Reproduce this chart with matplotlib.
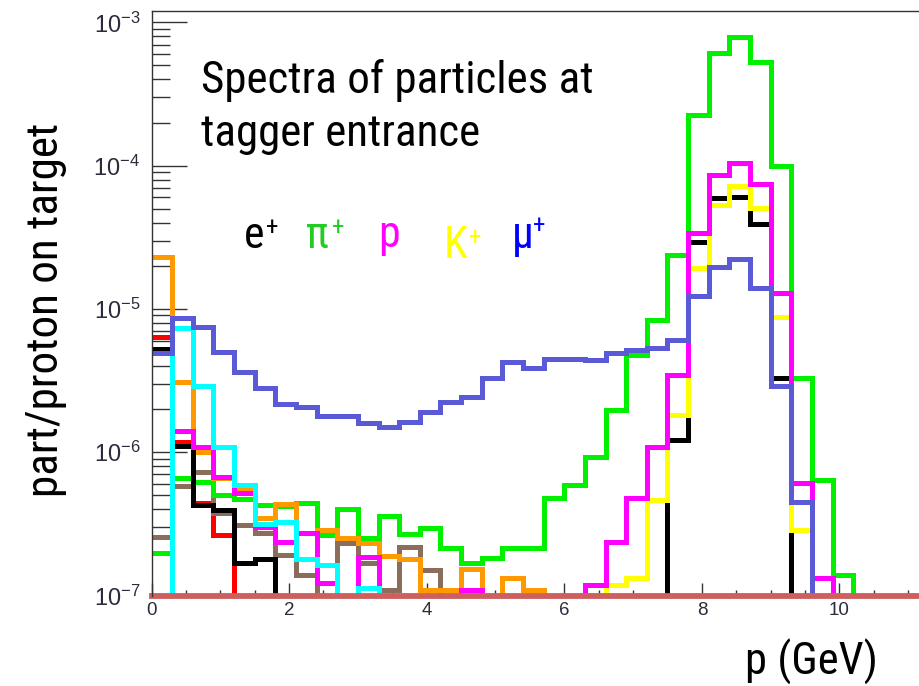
import os
import numpy as np
import matplotlib
matplotlib.use("Agg")
import matplotlib.pyplot as plt
from matplotlib import font_manager as fm
from matplotlib.font_manager import FontProperties
from matplotlib.textpath import TextPath
from matplotlib.ticker import FixedLocator, MultipleLocator, LogLocator, NullFormatter, FuncFormatter

plt.rcParams["mathtext.fontset"] = "custom"
plt.rcParams["mathtext.rm"] = "Liberation Sans"
plt.rcParams["font.family"] = ["Liberation Sans", "DejaVu Sans"]

# momentum binning: 0.3 GeV bins from 0 to 12 GeV
bin_edges = np.round(np.arange(0.0, 12.0 + 1e-9, 0.3), 6)
N_BINS = len(bin_edges) - 1


def full(values):
    """Pad a spectrum with empty bins up to the full range."""
    return np.array(values + [0.0] * (N_BINS - len(values)))


# particles per proton on target, per bin
e_plus = full([5.25e-6, 1.1e-6, 4.3e-7, 3.95e-7, 1.68e-7, 1.79e-7, 0, 0, 0, 0,
               0, 0, 0, 0, 0, 0, 0, 0, 0, 0,
               0, 0, 0, 0, 0, 1.22e-6, 2.94e-5, 5.91e-5, 6.0e-5, 3.9e-5,
               3.28e-6])
pi_plus = full([1.97e-7, 6.6e-7, 6.2e-7, 5.0e-7, 4.7e-7, 4.3e-7, 4.2e-7, 4.4e-7, 2.64e-7, 4.0e-7,
                2.5e-7, 3.59e-7, 2.67e-7, 2.97e-7, 2.16e-7, 1.68e-7, 1.84e-7, 2.13e-7, 2.13e-7, 4.76e-7,
                5.9e-7, 9.3e-7, 1.97e-6, 4.77e-6, 8.4e-6, 2.38e-5, 2.26e-4, 6.08e-4, 7.94e-4, 5.3e-4,
                1.0e-4, 3.28e-6, 6.4e-7, 1.4e-7])
protons = full([0, 1.41e-6, 1.09e-6, 6.75e-7, 5.2e-7, 3.0e-7, 2.37e-7, 2.74e-7, 1.22e-7, 0,
                1.87e-7, 0, 0, 0, 0, 1.1e-7, 0, 0, 0, 0,
                0, 1.18e-7, 2.37e-7, 4.77e-7, 1.09e-6, 3.46e-6, 3.37e-5, 8.6e-5, 1.05e-4, 7.45e-5,
                1.29e-5, 6.1e-7, 1.32e-7])
k_plus = full([0, 0, 0, 0, 0, 0, 0, 0, 0, 0,
               0, 0, 0, 0, 0, 0, 0, 0, 0, 0,
               0, 0, 1.18e-7, 1.32e-7, 4.65e-7, 1.82e-6, 1.92e-5, 5.3e-5, 7.2e-5, 5.03e-5,
               8.8e-6, 2.86e-7])
mu_plus = full([4.9e-6, 8.6e-6, 7.5e-6, 5.0e-6, 3.65e-6, 2.8e-6, 2.16e-6, 2.06e-6, 1.8e-6, 1.78e-6,
                1.59e-6, 1.49e-6, 1.63e-6, 1.92e-6, 2.25e-6, 2.44e-6, 3.31e-6, 4.24e-6, 3.89e-6, 4.46e-6,
                4.45e-6, 4.4e-6, 4.94e-6, 5.16e-6, 5.36e-6, 6.07e-6, 1.23e-5, 1.97e-5, 2.22e-5, 1.39e-5,
                2.9e-6, 4.5e-7])
red_spec = full([6.33e-6, 1.17e-6, 4.4e-7, 2.64e-7])
cyan_spec = full([0, 7.33e-6, 2.9e-6, 1.09e-6, 5.9e-7, 3.15e-7, 3.27e-7, 1.81e-7, 1.63e-7, 0,
                  1.12e-7])
orange_spec = full([2.31e-5, 3.1e-6, 1.0e-6, 6.58e-7, 5.6e-7, 3.46e-7, 4.35e-7, 2.74e-7, 2.86e-7, 2.5e-7,
                    2.31e-7, 1.89e-7, 1.79e-7, 1.09e-7, 1.1e-7, 1.52e-7, 0, 1.32e-7, 1.1e-7])
brown_spec = full([2.58e-7, 5.8e-7, 7.3e-7, 3.75e-7, 3.1e-7, 2.72e-7, 1.92e-7, 1.39e-7, 0, 2.31e-7,
                   1.68e-7, 1.09e-7, 2.19e-7, 1.51e-7])

Y_MIN, Y_MAX = 1e-7, 1.2e-3

# drawing order, bottom to top
spectra = [
    (red_spec, "#ff0000"),
    (brown_spec, "#8b6d5c"),
    (pi_plus, "#00f000"),
    (orange_spec, "#ff9900"),
    (e_plus, "#000000"),
    (k_plus, "#ffff00"),
    (protons, "#ff00ff"),
    (cyan_spec, "#00ffff"),
    (mu_plus, "#5a5ad7"),
]


# ---------- label font: a condensed sans face if one is installed ----------
def condensed_sans():
    prefs = ["ubuntu", "roboto", "noto sans", "open sans", "liberation sans", "dejavu sans"]
    best, best_rank = None, None
    for f in fm.fontManager.ttflist:
        tag = (f.name + " " + os.path.basename(f.fname)).lower()
        if not ("condensed" in tag or "narrow" in tag or f.stretch in ("condensed", "semi-condensed")):
            continue
        if f.style != "normal" or "mono" in tag or "italic" in tag or "oblique" in tag:
            continue
        if "serif" in tag and "sans" not in tag:
            continue
        if f.weight not in (400, "normal", "regular", "book"):
            continue
        if any(w in tag for w in ("extra", "ultra", "light", "thin", "medium", "bold", "black")):
            continue
        fam = next((i for i, p in enumerate(prefs) if p in tag), len(prefs))
        rank = (fam, "semi" in tag)
        if best_rank is None or rank < best_rank:
            best, best_rank = f.fname, rank
    if best is not None:
        return FontProperties(fname=best)
    return FontProperties(family=["Roboto", "DejaVu Sans"])


LABEL_FP = condensed_sans()


def font(size, weight="normal"):
    fp = LABEL_FP.copy()
    fp.set_size(size)
    fp.set_weight(weight)
    return fp


def ink(s, size):
    ext = TextPath((0, 0), s, prop=font(size)).get_extents()
    return ext.width * 100 / 72, ext.height * 100 / 72


def fit_size(s, width_px, probe=None, probe_height_px=None, slack=1.05):
    """Font size whose ink width matches, without outgrowing the glyph height."""
    ref = 20.0
    size = ref * width_px / ink(s, ref)[0] * slack
    if probe is not None:
        size = min(size, ref * probe_height_px / ink(probe, ref)[1])
    return size


W, H = 919, 686
fig = plt.figure(figsize=(W / 100, H / 100), dpi=100)
ax_left, ax_bottom, ax_top = 151.5, 595.5, 11.0
ax = fig.add_axes([ax_left / W, (H - ax_bottom) / H, 12 * 68.8 / W, (ax_bottom - ax_top) / H])
ax.set_yscale("log")
ax.set_xlim(0, 12)
ax.set_ylim(Y_MIN, Y_MAX)

for z, (vals, col) in enumerate(spectra):
    # empty bins sit below the axis floor, as in a log-scale histogram
    shown = np.where(vals > 0, vals, 1e-9)
    ax.stairs(shown, bin_edges, baseline=None, color=col, linewidth=3.6,
              joinstyle="miter", capstyle="butt", zorder=2 + z * 0.1)

# floor of the log axis
ax.axhline(Y_MIN, color="#cd5f5f", linewidth=4.2, zorder=5, clip_on=False)

for side in ("right", "bottom"):
    ax.spines[side].set_visible(False)
for side in ("left", "top"):
    ax.spines[side].set_color("#333333")
    ax.spines[side].set_linewidth(1.0)
    ax.spines[side].set_zorder(6)

ax.xaxis.set_major_locator(FixedLocator([0, 2, 4, 6, 8, 10]))
ax.xaxis.set_minor_locator(MultipleLocator(0.5))
ax.yaxis.set_major_locator(FixedLocator([1e-7, 1e-6, 1e-5, 1e-4, 1e-3]))
ax.yaxis.set_minor_locator(LogLocator(base=10, subs=np.arange(2, 10), numticks=20))
ax.yaxis.set_minor_formatter(NullFormatter())
ax.yaxis.set_major_formatter(FuncFormatter(
    lambda v, p: r"$\mathdefault{10^{%d}}$" % int(round(np.log10(v)))))
ax.xaxis.set_major_formatter(FuncFormatter(lambda v, p: "%d" % round(v)))

ax.tick_params(axis="y", which="major", direction="in", length=25, width=1.0,
               color="#333333", labelsize=17, labelcolor="#2b2b3b", pad=8)
ax.tick_params(axis="y", which="minor", direction="in", length=13, width=1.0, color="#333333")
ax.tick_params(axis="x", which="major", direction="in", length=9.5, width=1.0,
               color="#333333", labelsize=13.5, labelcolor="#2b2b3b", pad=4.5)
ax.tick_params(axis="x", which="minor", direction="in", length=4.5, width=1.0, color="#333333")


def fy(px):
    return 1 - px / H


def fx(px):
    return px / W


# title inside the frame
title_lines = ["Spectra of particles at", "tagger entrance"]
title_size = fit_size(title_lines[0], 371, "S", 36)
fig.text(fx(201), fy(93), title_lines[0], fontproperties=font(title_size), va="baseline", ha="left")
fig.text(fx(201), fy(146), title_lines[1], fontproperties=font(title_size), va="baseline", ha="left")

# species labels: symbol, colour, left x, baseline, baseline of the charge sign
species = [
    ("e", "#000000", 244, 248, 235),
    ("π", "#22cc22", 306, 248, 235),
    ("p", "#ff00ff", 378, 247, None),
    ("K", "#ffff00", 444, 258, 245),
    ("μ", "#0000ff", 512, 248, 233),
]
sym_size = fit_size("e", 1e6, "e", 24)
for name, col, x0, y0, ys in species:
    fig.text(fx(x0), fy(y0), name, color=col, fontproperties=font(sym_size),
             va="baseline", ha="left")
    if ys is not None:
        xs = x0 + ink(name, sym_size)[0] + 5
        fig.text(fx(xs), fy(ys), "+", color=col, fontproperties=font(18, "bold"),
                 va="baseline", ha="left")

ylab = "part/proton on target"
ylab_size = fit_size(ylab, 370, slack=1.0)
fig.text(fx(46), fy(310), ylab, rotation=90, fontproperties=font(ylab_size),
         ha="center", va="center")
xlab = "p (GeV)"
xlab_size = fit_size(xlab, 121, "G", 33)
fig.text(fx(878), fy(675), xlab, fontproperties=font(xlab_size), ha="right", va="baseline")

fig.savefig("out.png", dpi=100)
